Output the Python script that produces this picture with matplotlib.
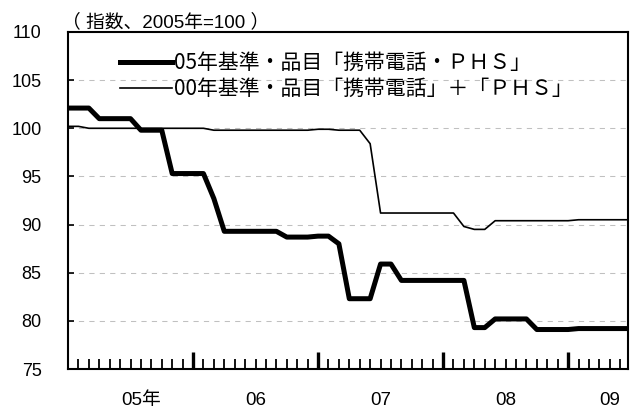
import matplotlib.pyplot as plt
from matplotlib.font_manager import FontProperties

# month index: 0 = Jan 2005 ... 54 = Jul 2009
months = list(range(55))

# 05年基準・品目「携帯電話・ＰＨＳ」
idx_05 = [102.1, 102.1, 102.1, 101.0, 101.0, 101.0, 101.0, 99.8, 99.8, 99.8,
          95.3, 95.3, 95.3, 95.3, 92.7, 89.3, 89.3, 89.3, 89.3, 89.3,
          89.3, 88.7, 88.7, 88.7, 88.8, 88.8, 88.0, 82.3, 82.3, 82.3,
          85.9, 85.9, 84.2, 84.2, 84.2, 84.2, 84.2, 84.2, 84.2, 79.3,
          79.3, 80.2, 80.2, 80.2, 80.2, 79.1, 79.1, 79.1, 79.1, 79.2,
          79.2, 79.2, 79.2, 79.2, 79.2]

# 00年基準・品目「携帯電話」+「ＰＨＳ」
idx_00 = [100.2, 100.2, 100.0, 100.0, 100.0, 100.0, 100.0, 100.0, 100.0, 100.0,
          100.0, 100.0, 100.0, 100.0, 99.8, 99.8, 99.8, 99.8, 99.8, 99.8,
          99.8, 99.8, 99.8, 99.8, 99.9, 99.9, 99.8, 99.8, 99.8, 98.4,
          91.2, 91.2, 91.2, 91.2, 91.2, 91.2, 91.2, 91.2, 89.8, 89.5,
          89.5, 90.4, 90.4, 90.4, 90.4, 90.4, 90.4, 90.4, 90.4, 90.5,
          90.5, 90.5, 90.5, 90.5, 90.5]

year_labels = ['05年', '06', '07', '08', '09']
year_label_pos = [7.0, 18.0, 30.0, 42.0, 52.0]

label_05 = '05年基準・品目「携帯電話・ＰＨＳ」'
label_00 = '00年基準・品目「携帯電話」＋「ＰＨＳ」'

latin_cjk = ['Liberation Sans', 'Noto Sans CJK JP']

fig = plt.figure(figsize=(6.32, 4.09), dpi=100)
ax = fig.add_axes([68 / 632, 40 / 409, 560 / 632, 337 / 409])

l00, = ax.plot(months, idx_00, color='black', lw=1.2, label=label_00)
l05, = ax.plot(months, idx_05, color='black', lw=3.6, label=label_05)

ax.set_xlim(0, 53.75)
ax.set_ylim(75, 110)

ax.set_yticks(range(75, 111, 5))
ax.tick_params(axis='y', direction='in', length=4, width=1.2, pad=19,
               labelsize=13)
for t in ax.get_yticklabels():
    t.set_family(latin_cjk)

ax.set_xticks([12, 24, 36, 48])
ax.set_xticks(range(1, 54), minor=True)
ax.tick_params(axis='x', which='major', direction='in', length=12, width=2.4,
               labelbottom=False)
ax.tick_params(axis='x', which='minor', direction='in', length=7, width=1.3)

ax.yaxis.grid(True, linestyle=(0, (5, 5)), color='#c0c0c0', lw=0.75)
ax.set_axisbelow(True)

for s in ax.spines.values():
    s.set_linewidth(1.5)
    s.set_color('black')

for pos, lab in zip(year_label_pos, year_labels):
    ax.text(pos, -0.092, lab, transform=ax.get_xaxis_transform(),
            ha='center', va='center', fontsize=13.5, family=latin_cjk)

fig.text(62 / 632, 1 - 22 / 409, '（ 指数、2005年=100 ）', ha='left',
         va='center', fontsize=13.5, family=latin_cjk)

ax.legend(handles=[l05, l00], loc='upper left', bbox_to_anchor=(0.093, 0.94),
          frameon=False, handlelength=2.5, handletextpad=0.1,
          labelspacing=0.2, borderaxespad=0, borderpad=0,
          prop=FontProperties(family='Noto Sans CJK JP', size=15))

fig.savefig('out.png', dpi=100)
